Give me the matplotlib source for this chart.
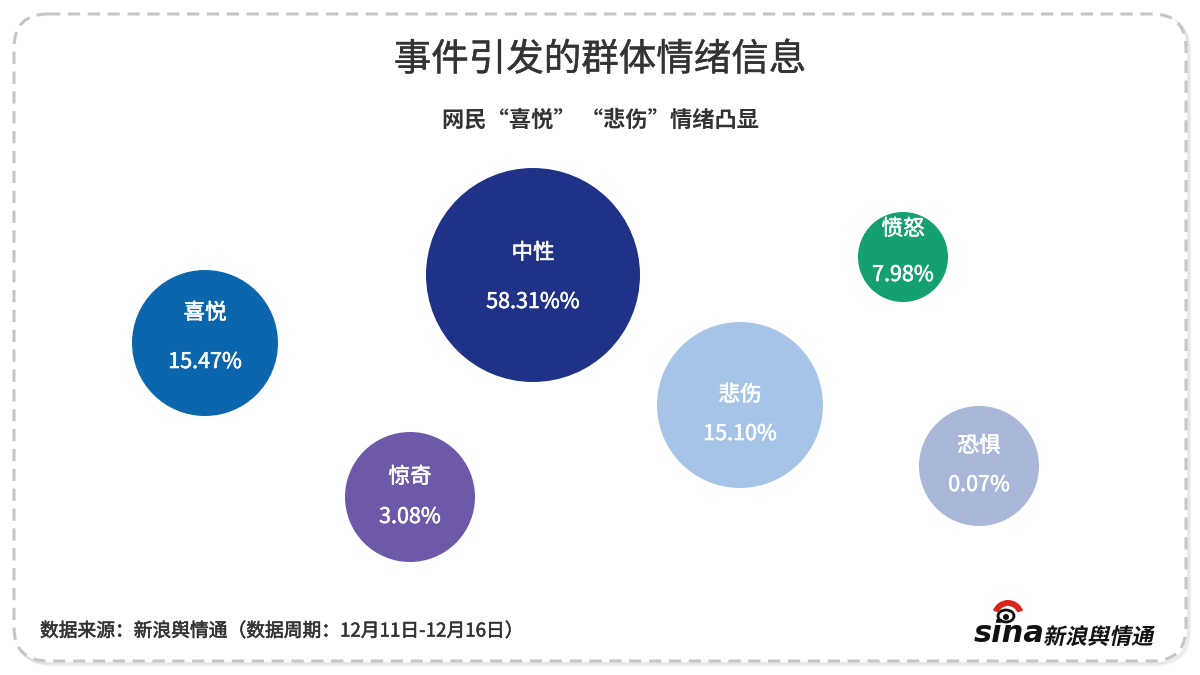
import matplotlib
matplotlib.use("Agg")
import matplotlib.pyplot as plt
import matplotlib.patheffects as pe
from matplotlib.patches import Circle, FancyBboxPatch, Wedge, Ellipse, PathPatch
from matplotlib.textpath import TextPath
from matplotlib.font_manager import FontProperties
from matplotlib.transforms import Affine2D

plt.rcParams['font.family'] = ['Noto Sans CJK SC', 'DejaVu Sans']

# ---- data ----
categories = ['喜悦', '中性', '愤怒', '悲伤', '恐惧', '惊奇']
values = [15.47, 58.31, 7.98, 15.10, 0.07, 3.08]
value_labels = ['15.47%', '58.31%%', '7.98%', '15.10%', '0.07%', '3.08%']

title = '事件引发的群体情绪信息'
subtitle = '网民“喜悦” “悲伤”情绪凸显'
source = '数据来源：新浪舆情通（数据周期：12月11日-12月16日）'
brand = '新浪舆情通'

# ---- layout / style (pixel coordinates) ----
centers = [(205, 343), (533, 275), (903, 257), (740, 405), (979, 466), (410, 497)]
radii = [73, 107, 45, 83, 60, 65]
label_dy = [-30, -22, -28, -10, -20, -20]
value_dy = [19, 27, 18, 29, 19, 20]
colors = ['#0b66ad', '#1f3288', '#15a070', '#a5c4e8', '#a9b7d9', '#6e58a8']

fig = plt.figure(figsize=(12, 6.75), dpi=100)
fig.patch.set_facecolor('white')
ax = fig.add_axes([0, 0, 1, 1])
ax.set_xlim(0, 1200)
ax.set_ylim(675, 0)
ax.set_aspect('equal')
ax.axis('off')

# soft shadow + border
for i, a in enumerate([0.05, 0.04, 0.03]):
    sh = FancyBboxPatch((16 + i, 16 + i), 1172, 647,
                        boxstyle='round,pad=0,rounding_size=34',
                        fill=False, edgecolor='#000000', alpha=a, linewidth=2)
    ax.add_patch(sh)
border = FancyBboxPatch((14, 14), 1172, 647, boxstyle='round,pad=0,rounding_size=34',
                        facecolor='white', edgecolor='#c6c6c6', linewidth=2.2,
                        linestyle=(0, (4, 2.5)))
ax.add_patch(border)

white_medium = [pe.withStroke(linewidth=0.4, foreground='white')]
dark_medium = [pe.withStroke(linewidth=0.3, foreground='#333333')]

# bubbles
for cat, vl, (cx, cy), r, c, ldy, vdy in zip(categories, value_labels, centers, radii,
                                             colors, label_dy, value_dy):
    ax.add_patch(Circle((cx, cy), r, facecolor=c, edgecolor='none'))
    ax.text(cx, cy + ldy, cat, color='white', fontsize=15.5, ha='center', va='center',
            path_effects=white_medium)
    ax.text(cx, cy + vdy, vl, color='white', fontsize=15.5, ha='center', va='center',
            path_effects=white_medium)

# titles
ax.text(600, 60, title, fontsize=27, color='#333333', ha='center', va='center',
        path_effects=dark_medium)
ax.text(600, 120, subtitle, fontsize=16, color='#333333', ha='center', va='center',
        fontweight='bold')
ax.text(40, 631, source, fontsize=13.5, color='#333333', ha='left', va='center',
        path_effects=[pe.withStroke(linewidth=0.4, foreground='#333333')])

# sina logo
ax.text(974, 634, 'sina', fontsize=22, color='#111111', ha='left', va='center',
        fontweight='heavy', style='italic', family='DejaVu Sans')
ax.add_patch(Ellipse((1006, 616), 16, 12, facecolor='white', edgecolor='#111111', linewidth=2))
ax.add_patch(Circle((1006, 617), 3, facecolor='#111111'))
ax.add_patch(Wedge((1008, 616), 16, 200, 340, width=6, facecolor='#d9261c',
                   edgecolor='none'))
fp = FontProperties(family='Noto Sans CJK SC', weight='bold')
tp = TextPath((0, 0), brand, size=22, prop=fp)
tr = Affine2D().skew_deg(12, 0).scale(1, -1).translate(1043, 644)
ax.add_patch(PathPatch(tr.transform_path(tp), facecolor='#111111', edgecolor='none'))

fig.savefig('out.png', dpi=100, facecolor='white')
